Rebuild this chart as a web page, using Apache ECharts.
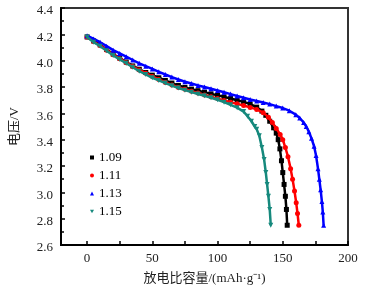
<!DOCTYPE html>
<html>
<head>
<meta charset="utf-8">
<script src="https://cdn.jsdelivr.net/npm/echarts@6/dist/echarts.min.js"></script>
<style>
  html, body { margin: 0; padding: 0; background: #fff; }
  #discharge-curve { width: 383px; height: 290px; }
</style>
</head>
<body>
<div id="discharge-curve"></div>
<script>
// 放电曲线数据 [比容量, 电压]
var seriesNames = ["1.09", "1.11", "1.13", "1.15"];
var xTickValues = [0, 25, 50, 75, 100, 125, 150, 175, 200];
var xLabelValues = [0, 50, 100, 150, 200];

var data109 = [
  [0, 4.18], [5, 4.15], [10, 4.12], [15, 4.085], [20, 4.05], [25, 4.02], [30, 3.99],
  [35, 3.96], [40, 3.935], [45, 3.91], [50, 3.89], [55, 3.87], [60, 3.85], [65, 3.83],
  [70, 3.812], [75, 3.797], [80, 3.784], [85, 3.772], [90, 3.76], [95, 3.748], [100, 3.737],
  [105, 3.725], [110, 3.713], [115, 3.70], [120, 3.687], [125, 3.67], [130, 3.647],
  [134, 3.617], [137, 3.585], [140, 3.54], [143, 3.49], [145, 3.45], [146.5, 3.40],
  [147.8, 3.33], [149, 3.24], [150, 3.15], [151, 3.06], [152, 2.97], [152.8, 2.87], [153.4, 2.75]
];
var data111 = [
  [0, 4.18], [5, 4.145], [10, 4.115], [15, 4.08], [20, 4.045], [25, 4.015], [30, 3.985],
  [35, 3.955], [40, 3.93], [45, 3.905], [50, 3.88], [55, 3.857], [60, 3.835], [65, 3.815],
  [70, 3.797], [75, 3.782], [80, 3.768], [85, 3.755], [90, 3.74], [95, 3.726], [100, 3.712],
  [105, 3.698], [110, 3.685], [115, 3.672], [120, 3.66], [125, 3.645], [130, 3.63],
  [135, 3.605], [139, 3.57], [142, 3.53], [145, 3.485], [148, 3.44], [150, 3.40],
  [152, 3.34], [154, 3.27], [156, 3.18], [157.5, 3.10], [159, 3.01], [160.3, 2.92],
  [161.3, 2.84], [162.3, 2.75]
];
var data113 = [
  [0, 4.19], [5, 4.165], [10, 4.14], [15, 4.11], [20, 4.08], [25, 4.055], [30, 4.03],
  [35, 4.005], [40, 3.98], [45, 3.958], [50, 3.937], [55, 3.915], [60, 3.895], [65, 3.875],
  [70, 3.857], [75, 3.84], [80, 3.826], [85, 3.812], [90, 3.80], [95, 3.787], [100, 3.774],
  [105, 3.76], [110, 3.746], [115, 3.732], [120, 3.718], [125, 3.705], [130, 3.693],
  [135, 3.682], [140, 3.67], [145, 3.655], [150, 3.64], [155, 3.62], [160, 3.59],
  [163, 3.565], [166, 3.53], [168, 3.50], [170, 3.46], [172, 3.41], [174, 3.35],
  [175.5, 3.28], [177, 3.18], [178, 3.10], [179, 3.02], [180, 2.93], [180.7, 2.85], [181.3, 2.75]
];
var data115 = [
  [0, 4.18], [5, 4.14], [10, 4.11], [15, 4.075], [20, 4.04], [25, 4.01], [30, 3.98],
  [35, 3.95], [40, 3.92], [45, 3.895], [50, 3.87], [55, 3.85], [60, 3.83], [65, 3.81],
  [70, 3.792], [75, 3.776], [80, 3.761], [85, 3.747], [90, 3.733], [95, 3.718], [100, 3.703],
  [105, 3.685], [110, 3.665], [115, 3.643], [120, 3.613], [123, 3.578], [126, 3.54],
  [128.5, 3.50], [130, 3.48], [132, 3.43], [134, 3.34], [135.7, 3.25], [137, 3.15],
  [138, 3.06], [139, 2.97], [140, 2.87], [140.8, 2.75]
];

var colors = ["#000000", "#ff0000", "#0000ff", "#16897d"];
var symbols = ["rect", "circle", "triangle", "path://M0,0 L10,0 L5,9 Z"];
var allData = [data109, data111, data113, data115];

var serifFont = "'Liberation Serif', 'Times New Roman', 'Noto Sans CJK SC', serif";

var chart = echarts.init(document.getElementById("discharge-curve"));

var series = [];
for (let i = 0; i < seriesNames.length; i++) {
  series.push({
    name: seriesNames[i],
    type: "line",
    data: allData[i],
    symbol: symbols[i],
    symbolSize: 5,
    showAllSymbol: true,
    itemStyle: { color: colors[i] },
    lineStyle: { color: colors[i], width: 2.5 },
    z: 2 + i
  });
}

var option = {
  animation: false,
  backgroundColor: "#fff",
  grid: {
    left: 58,
    right: 35,
    top: 8,
    bottom: 43,
    show: true,
    borderColor: "#333",
    borderWidth: 2,
    containLabel: false
  },
  legend: {
    orient: "vertical",
    left: 85,
    top: 146,
    itemWidth: 4,
    itemHeight: 4,
    itemGap: 5,
    textStyle: { fontFamily: serifFont, fontSize: 13, color: "#000" },
    data: seriesNames.map(function (n, i) {
      return { name: n, icon: symbols[i] };
    })
  },
  xAxis: {
    type: "value",
    min: -20,
    max: 200,
    name: "放电比容量/(mAh·g⁻¹)",
    nameLocation: "middle",
    nameGap: 27,
    nameTextStyle: { fontFamily: serifFont, fontSize: 13, color: "#222" },
    axisLine: { onZero: false, lineStyle: { color: "#000", width: 2 } },
    axisTick: { inside: true, length: 4, customValues: xTickValues, lineStyle: { color: "#000", width: 1.5 } },
    axisLabel: { customValues: xLabelValues, fontFamily: serifFont, fontSize: 13, color: "#222", margin: 7 },
    splitLine: { show: false }
  },
  yAxis: {
    type: "value",
    min: 2.6,
    max: 4.4,
    interval: 0.2,
    name: "电压/V",
    nameLocation: "middle",
    nameGap: 40,
    nameTextStyle: { fontFamily: serifFont, fontSize: 13, color: "#222" },
    axisLine: { onZero: false, lineStyle: { color: "#000", width: 2 } },
    axisTick: { inside: true, length: 4, lineStyle: { color: "#000", width: 1.5 } },
    minorTick: { show: true, splitNumber: 2, length: 3, lineStyle: { color: "#000", width: 1.5 } },
    axisLabel: {
      fontFamily: serifFont, fontSize: 13, color: "#222", margin: 8,
      verticalAlign: "top", lineHeight: 6,
      formatter: function (v) { return v.toFixed(1); }
    },
    splitLine: { show: false }
  },
  series: series
};

chart.setOption(option);
window.addEventListener("resize", function () {
  chart.resize();
});
</script>
</body>
</html>
